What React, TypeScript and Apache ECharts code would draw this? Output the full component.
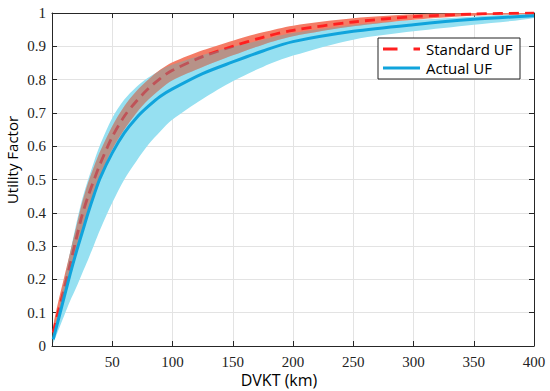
import React, { useEffect, useRef } from "react";
import * as echarts from "echarts";

// DVKT (km) sample points
const distanceKm = [1, 5, 10, 15, 20, 25, 30, 35, 40, 50, 60, 70, 80, 90, 100, 125, 150, 175, 200, 250, 300, 350, 400];

// Standard UF (red dashed) and its band
const standardUF = [0.04, 0.10, 0.17, 0.245, 0.32, 0.393, 0.45, 0.50, 0.547, 0.628, 0.69, 0.735, 0.773, 0.804, 0.828, 0.869, 0.90, 0.927, 0.948, 0.973, 0.989, 0.997, 1.0];
const standardUFHigh = [0.06, 0.13, 0.205, 0.28, 0.355, 0.43, 0.49, 0.54, 0.585, 0.66, 0.72, 0.765, 0.80, 0.83, 0.852, 0.888, 0.917, 0.942, 0.962, 0.984, 0.996, 1.0, 1.0];
const standardUFLow = [0.02, 0.075, 0.145, 0.215, 0.28, 0.345, 0.405, 0.46, 0.51, 0.59, 0.65, 0.70, 0.74, 0.772, 0.798, 0.838, 0.873, 0.905, 0.93, 0.96, 0.98, 0.992, 0.998];

// Actual UF (blue solid) and its band
const actualUF = [0.02, 0.075, 0.145, 0.215, 0.28, 0.34, 0.40, 0.455, 0.505, 0.58, 0.64, 0.685, 0.72, 0.75, 0.772, 0.818, 0.853, 0.886, 0.914, 0.945, 0.965, 0.981, 0.992];
const actualUFHigh = [0.03, 0.10, 0.19, 0.28, 0.365, 0.44, 0.50, 0.555, 0.605, 0.685, 0.74, 0.778, 0.806, 0.828, 0.845, 0.874, 0.898, 0.92, 0.94, 0.964, 0.979, 0.989, 0.998];
const actualUFLow = [0.01, 0.045, 0.09, 0.135, 0.175, 0.218, 0.26, 0.305, 0.35, 0.43, 0.50, 0.555, 0.605, 0.645, 0.68, 0.742, 0.795, 0.838, 0.872, 0.92, 0.945, 0.965, 0.985];

const legendNames = ["Standard UF", "Actual UF"];
const xAxisTitle = "DVKT (km)";
const yAxisTitle = "Utility Factor";

const SANS = "'Open Sans', 'Noto Sans', sans-serif";
const SERIF = "'Times New Roman', 'Liberation Serif', serif";

const RED = "#ff1f1f";
const BLUE = "#10a4dc";

function bandSeries(lo: number[], hi: number[], color: string, z: number) {
  return {
    type: "custom",
    coordinateSystem: "cartesian2d",
    xAxisIndex: 0,
    yAxisIndex: 0,
    data: [[distanceKm[0], lo[0]]],
    silent: true,
    clip: true,
    z,
    renderItem: (_params: any, api: any) => {
      const upper = distanceKm.map((x, i) => api.coord([x, hi[i]]));
      const lower = distanceKm.map((x, i) => api.coord([x, lo[i]])).reverse();
      return {
        type: "polygon",
        shape: { points: upper.concat(lower), smooth: 0.3 },
        style: { fill: color, stroke: "none" },
      };
    },
  };
}

export default function App() {
  const ref = useRef<HTMLDivElement>(null);
  useEffect(() => {
    document.body.style.margin = "0";
    if (!ref.current) return;
    const chart = echarts.init(ref.current, undefined, { renderer: "svg" });
    const overlapLow = distanceKm.map((_, i) => Math.max(standardUFLow[i], actualUFLow[i]));
    const overlapHigh = distanceKm.map((_, i) => Math.max(overlapLow[i], Math.min(standardUFHigh[i], actualUFHigh[i])));

    const axisLineStyle = { color: "#262626", width: 1 };
    const lx = 378;
    const ly = 38;
    chart.setOption({
      animation: false,
      backgroundColor: "#ffffff",
      grid: { left: 52, right: 16, top: 13, bottom: 45, containLabel: false },
      graphic: [
        {
          type: "rect",
          z: 100,
          shape: { x: lx, y: ly, width: 142, height: 41 },
          style: { fill: "#ffffff", stroke: "#222222", lineWidth: 1 },
        },
        {
          type: "line",
          z: 101,
          shape: { x1: lx + 5, y1: ly + 11, x2: lx + 42, y2: ly + 11 },
          style: { stroke: RED, lineWidth: 3, lineDash: [14.5, 16] },
        },
        {
          type: "text",
          z: 101,
          x: lx + 48,
          y: ly + 11,
          style: { text: legendNames[0], fontFamily: SANS, fontSize: 15, lineHeight: 16, fill: "#000", verticalAlign: "middle" },
        },
        {
          type: "line",
          z: 101,
          shape: { x1: lx + 5, y1: ly + 30, x2: lx + 42, y2: ly + 30 },
          style: { stroke: BLUE, lineWidth: 3 },
        },
        {
          type: "text",
          z: 101,
          x: lx + 48,
          y: ly + 30,
          style: { text: legendNames[1], fontFamily: SANS, fontSize: 15, lineHeight: 16, fill: "#000", verticalAlign: "middle" },
        },
        {
          type: "text",
          z: 101,
          x: 279,
          y: 380,
          style: { text: xAxisTitle, fontFamily: SANS, fontSize: 16, fill: "#000", align: "center", verticalAlign: "middle" },
        },
        {
          type: "text",
          z: 101,
          x: 12,
          y: 160,
          rotation: Math.PI / 2,
          style: { text: yAxisTitle, fontFamily: SANS, fontSize: 15, fill: "#000", align: "center", verticalAlign: "middle" },
        },
      ],
      xAxis: [
        {
          type: "value",
          min: 0,
          max: 400,
          interval: 50,
          axisLine: { show: true, onZero: false, lineStyle: axisLineStyle },
          axisTick: { show: true, inside: true, length: 5, lineStyle: axisLineStyle },
          axisLabel: {
            fontFamily: SERIF,
            fontSize: 15,
            color: "#222",
            margin: 8,
            formatter: (v: number) => (v === 0 ? "" : String(v)),
          },
          splitLine: { show: true, lineStyle: { color: "#e3e3e3", width: 1 } },
        },
        {
          type: "value",
          position: "top",
          min: 0,
          max: 400,
          interval: 50,
          axisLine: { show: true, onZero: false, lineStyle: axisLineStyle },
          axisTick: { show: true, inside: true, length: 5, lineStyle: axisLineStyle },
          axisLabel: { show: false },
          splitLine: { show: false },
        },
      ],
      yAxis: [
        {
          type: "value",
          min: 0,
          max: 1,
          interval: 0.1,
          axisLine: { show: true, onZero: false, lineStyle: axisLineStyle },
          axisTick: { show: true, inside: true, length: 5, lineStyle: axisLineStyle },
          axisLabel: {
            fontFamily: SERIF,
            fontSize: 15,
            color: "#222",
            margin: 6,
            formatter: (v: number) => String(Math.round(v * 10) / 10),
          },
          splitLine: { show: true, lineStyle: { color: "#e3e3e3", width: 1 } },
        },
        {
          type: "value",
          position: "right",
          min: 0,
          max: 1,
          interval: 0.1,
          axisLine: { show: true, onZero: false, lineStyle: axisLineStyle },
          axisTick: { show: true, inside: true, length: 5, lineStyle: axisLineStyle },
          axisLabel: { show: false },
          splitLine: { show: false },
        },
      ],
      series: [
        bandSeries(actualUFLow, actualUFHigh, "#96e0f1", 1),
        bandSeries(standardUFLow, standardUFHigh, "#f47c66", 2),
        {
          name: legendNames[0],
          type: "line",
          data: distanceKm.map((x, i) => [x, standardUF[i]]),
          symbol: "none",
          smooth: 0.3,
          lineStyle: { color: RED, width: 2.8, type: [10, 6] },
          z: 3,
          silent: true,
        },
        bandSeries(overlapLow, overlapHigh, "rgba(55,193,207,0.32)", 4),
        {
          name: legendNames[1],
          type: "line",
          data: distanceKm.map((x, i) => [x, actualUF[i]]),
          symbol: "none",
          smooth: 0.3,
          lineStyle: { color: BLUE, width: 3 },
          z: 5,
          silent: true,
        },
      ],
    });
    return () => chart.dispose();
  }, []);
  return <div ref={ref} style={{ width: 550, height: 391 }} />;
}
